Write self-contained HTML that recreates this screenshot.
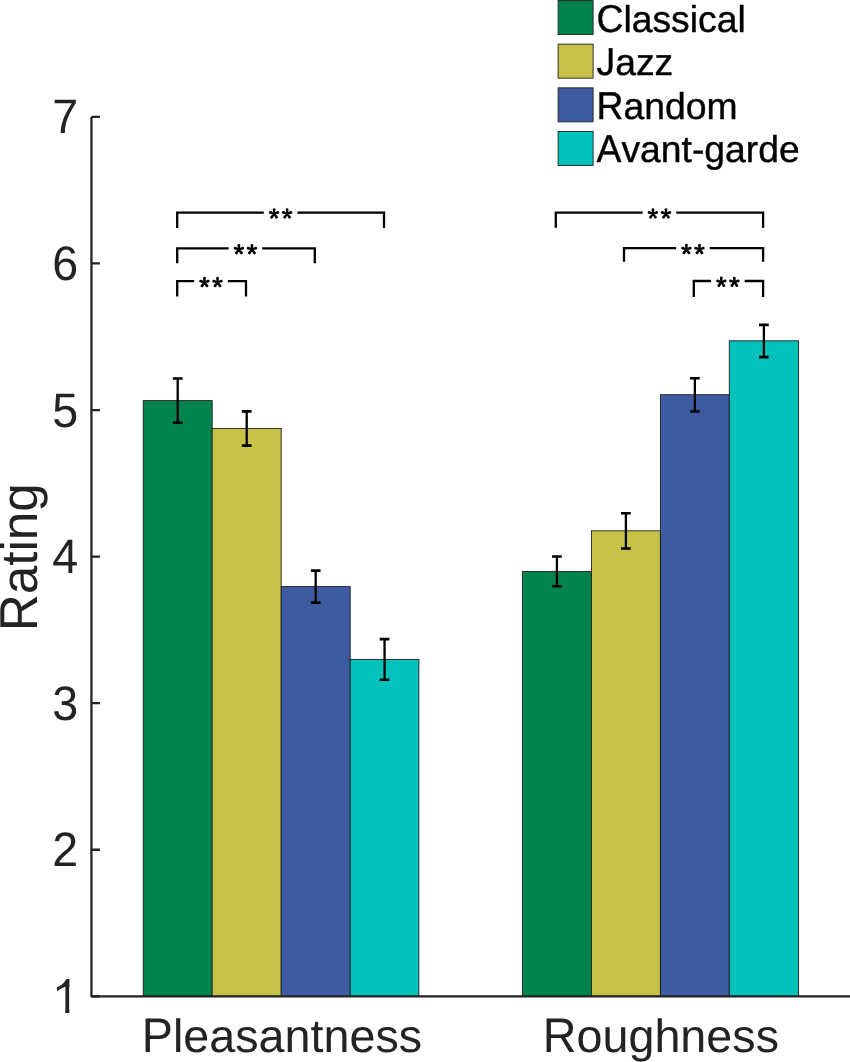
<!DOCTYPE html><html><head><meta charset="utf-8"><style>html,body{margin:0;padding:0;background:#fff;width:850px;height:1062px;overflow:hidden}svg{display:block;will-change:transform}text{font-family:"Liberation Sans",sans-serif;font-kerning:none;text-rendering:geometricPrecision}</style></head><body><svg width="850" height="1062" viewBox="0 0 850 1062"><rect x="143.2" y="400.6" width="69.00" height="595.75" fill="#00834d" stroke="#231f20" stroke-width="0.9"/><rect x="212.2" y="428.5" width="69.00" height="567.85" fill="#c6c247" stroke="#231f20" stroke-width="0.9"/><rect x="281.2" y="586.6" width="69.00" height="409.75" fill="#3c5ba0" stroke="#231f20" stroke-width="0.9"/><rect x="350.2" y="659.4" width="68.70" height="336.95" fill="#00c2bb" stroke="#231f20" stroke-width="0.9"/><rect x="522.4" y="571.4" width="69.00" height="424.95" fill="#00834d" stroke="#231f20" stroke-width="0.9"/><rect x="591.4" y="530.8" width="69.00" height="465.55" fill="#c6c247" stroke="#231f20" stroke-width="0.9"/><rect x="660.4" y="394.7" width="68.90" height="601.65" fill="#3c5ba0" stroke="#231f20" stroke-width="0.9"/><rect x="729.3" y="340.8" width="69.20" height="655.55" fill="#00c2bb" stroke="#231f20" stroke-width="0.9"/><path d="M177.70 378.5V422.7" stroke="#000" stroke-width="2.3" fill="none"/><path d="M172.85 378.5H182.55M172.85 422.7H182.55" stroke="#000" stroke-width="2.6" fill="none"/><path d="M246.70 411.4V445.6" stroke="#000" stroke-width="2.3" fill="none"/><path d="M241.85 411.4H251.55M241.85 445.6H251.55" stroke="#000" stroke-width="2.6" fill="none"/><path d="M315.70 570.6V602.6" stroke="#000" stroke-width="2.3" fill="none"/><path d="M310.85 570.6H320.55M310.85 602.6H320.55" stroke="#000" stroke-width="2.6" fill="none"/><path d="M384.55 639.1V679.8" stroke="#000" stroke-width="2.3" fill="none"/><path d="M379.70 639.1H389.40M379.70 679.8H389.40" stroke="#000" stroke-width="2.6" fill="none"/><path d="M556.90 556.5V586.2" stroke="#000" stroke-width="2.3" fill="none"/><path d="M552.05 556.5H561.75M552.05 586.2H561.75" stroke="#000" stroke-width="2.6" fill="none"/><path d="M625.90 513.3V548.5" stroke="#000" stroke-width="2.3" fill="none"/><path d="M621.05 513.3H630.75M621.05 548.5H630.75" stroke="#000" stroke-width="2.6" fill="none"/><path d="M694.85 378.2V411.5" stroke="#000" stroke-width="2.3" fill="none"/><path d="M690.00 378.2H699.70M690.00 411.5H699.70" stroke="#000" stroke-width="2.6" fill="none"/><path d="M763.90 324.9V357.1" stroke="#000" stroke-width="2.3" fill="none"/><path d="M759.05 324.9H768.75M759.05 357.1H768.75" stroke="#000" stroke-width="2.6" fill="none"/><path d="M91.43 116.9V996.35H851" stroke="#232323" stroke-width="2.25" fill="none" stroke-linejoin="round"/><path d="M91.43 996.35H99.9M91.43 849.77H99.9M91.43 703.20H99.9M91.43 556.62H99.9M91.43 410.05H99.9M91.43 263.47H99.9M91.43 116.90H99.9" stroke="#232323" stroke-width="2.3" fill="none"/><defs><clipPath id="c1"><rect x="65.2" y="985" width="4.2" height="30"/></clipPath></defs><path d="M56.92 987.25Q63.0 985.3 66.3 978.95H69.4V987H65.2V986.5Q61 988.6 56.92 991.2Z" fill="#232323"/><g clip-path="url(#c1)"><g transform="translate(79.50,1012.90)" fill="#232323" stroke="#232323" stroke-width="0" font-size="46.6"><text transform="translate(-25.92,0) scale(1,1.041)">1</text></g></g><g transform="translate(78.20,866.32)" fill="#232323" stroke="#232323" stroke-width="0" font-size="46.6"><text transform="translate(-25.92,0) scale(1,1.041)">2</text></g><g transform="translate(78.20,719.75)" fill="#232323" stroke="#232323" stroke-width="0" font-size="46.6"><text transform="translate(-25.92,0) scale(1,1.041)">3</text></g><g transform="translate(78.20,573.17)" fill="#232323" stroke="#232323" stroke-width="0" font-size="46.6"><text transform="translate(-25.92,0) scale(1,1.041)">4</text></g><g transform="translate(78.20,426.60)" fill="#232323" stroke="#232323" stroke-width="0" font-size="46.6"><text transform="translate(-25.92,0) scale(1,1.041)">5</text></g><g transform="translate(78.20,280.02)" fill="#232323" stroke="#232323" stroke-width="0" font-size="46.6"><text transform="translate(-25.92,0) scale(1,1.041)">6</text></g><g transform="translate(78.20,133.45)" fill="#232323" stroke="#232323" stroke-width="0" font-size="46.6"><text transform="translate(-25.92,0) scale(1,1.041)">7</text></g><path d="M177.2 228.0V212.6H263.80M297.40 212.6H384.0V228.0" stroke="#000" stroke-width="2.3" fill="none"/><path d="M177.2 263.2V248.3H228.60M262.20 248.3H314.8V263.2" stroke="#000" stroke-width="2.3" fill="none"/><path d="M177.2 296.5V281.2H194.20M227.80 281.2H246.0V296.5" stroke="#000" stroke-width="2.3" fill="none"/><path d="M555.8 227.8V212.6H642.65M676.25 212.6H763.1V227.8" stroke="#000" stroke-width="2.3" fill="none"/><path d="M624.0 261.8V248.2H676.15M709.75 248.2H763.1V261.8" stroke="#000" stroke-width="2.3" fill="none"/><path d="M693.8 297.0V281.0H711.05M744.65 281.0H763.1V297.0" stroke="#000" stroke-width="2.3" fill="none"/><path d="M274.93 213.70L275.48 209.60A1.4 1.4 0 0 0 272.68 209.60L273.23 213.70ZM274.34 214.51L278.36 213.78A1.4 1.4 0 0 0 277.49 211.12L273.81 212.89ZM274.34 212.89L270.66 211.12A1.4 1.4 0 0 0 269.79 213.78L273.81 214.51ZM273.38 214.19L275.39 218.03A1.4 1.4 0 0 0 277.69 216.42L274.77 213.21ZM273.38 213.21L270.46 216.42A1.4 1.4 0 0 0 272.76 218.03L274.77 214.19ZM287.98 213.70L288.52 209.60A1.4 1.4 0 0 0 285.73 209.60L286.27 213.70ZM287.39 214.51L291.41 213.78A1.4 1.4 0 0 0 290.54 211.12L286.86 212.89ZM287.39 212.89L283.71 211.12A1.4 1.4 0 0 0 282.84 213.78L286.86 214.51ZM286.43 214.19L288.44 218.03A1.4 1.4 0 0 0 290.74 216.42L287.82 213.21ZM286.43 213.21L283.51 216.42A1.4 1.4 0 0 0 285.81 218.03L287.82 214.19ZM239.72 249.40L240.28 245.30A1.4 1.4 0 0 0 237.47 245.30L238.03 249.40ZM239.14 250.21L243.16 249.48A1.4 1.4 0 0 0 242.29 246.82L238.61 248.59ZM239.14 248.59L235.46 246.82A1.4 1.4 0 0 0 234.59 249.48L238.61 250.21ZM238.18 249.89L240.19 253.73A1.4 1.4 0 0 0 242.49 252.12L239.57 248.91ZM238.18 248.91L235.26 252.12A1.4 1.4 0 0 0 237.56 253.73L239.57 249.89ZM252.78 249.40L253.33 245.30A1.4 1.4 0 0 0 250.53 245.30L251.08 249.40ZM252.19 250.21L256.21 249.48A1.4 1.4 0 0 0 255.34 246.82L251.66 248.59ZM252.19 248.59L248.51 246.82A1.4 1.4 0 0 0 247.64 249.48L251.66 250.21ZM251.23 249.89L253.24 253.73A1.4 1.4 0 0 0 255.54 252.12L252.62 248.91ZM251.23 248.91L248.31 252.12A1.4 1.4 0 0 0 250.61 253.73L252.62 249.89ZM205.32 282.30L205.88 278.20A1.4 1.4 0 0 0 203.07 278.20L203.62 282.30ZM204.74 283.11L208.76 282.38A1.4 1.4 0 0 0 207.89 279.72L204.21 281.49ZM204.74 281.49L201.06 279.72A1.4 1.4 0 0 0 200.19 282.38L204.21 283.11ZM203.78 282.79L205.79 286.63A1.4 1.4 0 0 0 208.09 285.02L205.17 281.81ZM203.78 281.81L200.86 285.02A1.4 1.4 0 0 0 203.16 286.63L205.17 282.79ZM218.38 282.30L218.93 278.20A1.4 1.4 0 0 0 216.12 278.20L216.68 282.30ZM217.79 283.11L221.81 282.38A1.4 1.4 0 0 0 220.94 279.72L217.26 281.49ZM217.79 281.49L214.11 279.72A1.4 1.4 0 0 0 213.24 282.38L217.26 283.11ZM216.83 282.79L218.84 286.63A1.4 1.4 0 0 0 221.14 285.02L218.22 281.81ZM216.83 281.81L213.91 285.02A1.4 1.4 0 0 0 216.21 286.63L218.22 282.79ZM653.78 213.70L654.33 209.60A1.4 1.4 0 0 0 651.53 209.60L652.08 213.70ZM653.19 214.51L657.21 213.78A1.4 1.4 0 0 0 656.34 211.12L652.66 212.89ZM653.19 212.89L649.51 211.12A1.4 1.4 0 0 0 648.64 213.78L652.66 214.51ZM652.23 214.19L654.24 218.03A1.4 1.4 0 0 0 656.54 216.42L653.62 213.21ZM652.23 213.21L649.31 216.42A1.4 1.4 0 0 0 651.61 218.03L653.62 214.19ZM666.83 213.70L667.38 209.60A1.4 1.4 0 0 0 664.58 209.60L665.12 213.70ZM666.24 214.51L670.26 213.78A1.4 1.4 0 0 0 669.39 211.12L665.71 212.89ZM666.24 212.89L662.56 211.12A1.4 1.4 0 0 0 661.69 213.78L665.71 214.51ZM665.28 214.19L667.29 218.03A1.4 1.4 0 0 0 669.59 216.42L666.67 213.21ZM665.28 213.21L662.36 216.42A1.4 1.4 0 0 0 664.66 218.03L666.67 214.19ZM687.27 249.30L687.82 245.20A1.4 1.4 0 0 0 685.02 245.20L685.57 249.30ZM686.69 250.11L690.71 249.38A1.4 1.4 0 0 0 689.84 246.72L686.16 248.49ZM686.69 248.49L683.01 246.72A1.4 1.4 0 0 0 682.14 249.38L686.16 250.11ZM685.73 249.79L687.74 253.63A1.4 1.4 0 0 0 690.04 252.02L687.12 248.81ZM685.73 248.81L682.81 252.02A1.4 1.4 0 0 0 685.11 253.63L687.12 249.79ZM700.32 249.30L700.87 245.20A1.4 1.4 0 0 0 698.07 245.20L698.62 249.30ZM699.74 250.11L703.76 249.38A1.4 1.4 0 0 0 702.89 246.72L699.21 248.49ZM699.74 248.49L696.06 246.72A1.4 1.4 0 0 0 695.19 249.38L699.21 250.11ZM698.78 249.79L700.79 253.63A1.4 1.4 0 0 0 703.09 252.02L700.17 248.81ZM698.78 248.81L695.86 252.02A1.4 1.4 0 0 0 698.16 253.63L700.17 249.79ZM722.18 282.10L722.73 278.00A1.4 1.4 0 0 0 719.93 278.00L720.48 282.10ZM721.59 282.91L725.61 282.18A1.4 1.4 0 0 0 724.74 279.52L721.06 281.29ZM721.59 281.29L717.91 279.52A1.4 1.4 0 0 0 717.04 282.18L721.06 282.91ZM720.63 282.59L722.64 286.43A1.4 1.4 0 0 0 724.94 284.82L722.02 281.61ZM720.63 281.61L717.71 284.82A1.4 1.4 0 0 0 720.01 286.43L722.02 282.59ZM735.23 282.10L735.77 278.00A1.4 1.4 0 0 0 732.98 278.00L733.52 282.10ZM734.64 282.91L738.66 282.18A1.4 1.4 0 0 0 737.79 279.52L734.11 281.29ZM734.64 281.29L730.96 279.52A1.4 1.4 0 0 0 730.09 282.18L734.11 282.91ZM733.68 282.59L735.69 286.43A1.4 1.4 0 0 0 737.99 284.82L735.07 281.61ZM733.68 281.61L730.76 284.82A1.4 1.4 0 0 0 733.06 286.43L735.07 282.59Z" fill="#000"/><g transform="translate(282.00,1052.20)" fill="#232323" stroke="#232323" stroke-width="0" font-size="46.7"><text transform="translate(-140.19,0) scale(1,1.041)">P</text><text transform="translate(-109.04,0) scale(1,1.0)">leasantness</text></g><g transform="translate(660.90,1052.20)" fill="#232323" stroke="#232323" stroke-width="0" font-size="46.7"><text transform="translate(-118.13,0) scale(1,1.041)">R</text><text transform="translate(-84.40,0) scale(1,1.0)">oughness</text></g><g transform="translate(36.70,557.20) rotate(-90)" fill="#232323" stroke="#232323" stroke-width="0" font-size="51.25"><text transform="translate(-74.07,0) scale(1,1.041)">R</text><text transform="translate(-37.06,0) scale(1,1.0)">ating</text></g><rect x="558.1" y="0.50" width="35.0" height="34.0" fill="#00834d" stroke="#231f20" stroke-width="0.9"/><g transform="translate(596.50,31.60)" fill="#000" stroke="#000" stroke-width="0.4" font-size="37.3"><text transform="translate(0.00,0) scale(1,1.041)">C</text><text transform="translate(26.94,0) scale(1,1.0)">lassical</text></g><rect x="558.1" y="44.17" width="35.0" height="34.0" fill="#c6c247" stroke="#231f20" stroke-width="0.9"/><defs><clipPath id="c2"><rect x="608.66" y="40" width="100" height="45"/><rect x="590" y="53" width="120" height="32"/></clipPath></defs><g clip-path="url(#c2)"><g transform="translate(596.50,75.05)" fill="#000" stroke="#000" stroke-width="0.4" font-size="37.3"><text transform="translate(0.00,0) scale(1,1.041)">J</text><text transform="translate(18.65,0) scale(1,1.0)">azz</text></g></g><rect x="558.1" y="87.84" width="35.0" height="34.0" fill="#3c5ba0" stroke="#231f20" stroke-width="0.9"/><g transform="translate(596.50,118.50)" fill="#000" stroke="#000" stroke-width="0.4" font-size="37.3"><text transform="translate(0.00,0) scale(1,1.041)">R</text><text transform="translate(26.94,0) scale(1,1.0)">andom</text></g><rect x="558.1" y="131.51" width="35.0" height="34.0" fill="#00c2bb" stroke="#231f20" stroke-width="0.9"/><g transform="translate(596.50,161.95)" fill="#000" stroke="#000" stroke-width="0.4" font-size="37.3"><text transform="translate(0.00,0) scale(1,1.041)">A</text><text transform="translate(24.88,0) scale(1,1.0)">vant-garde</text></g></svg></body></html>
